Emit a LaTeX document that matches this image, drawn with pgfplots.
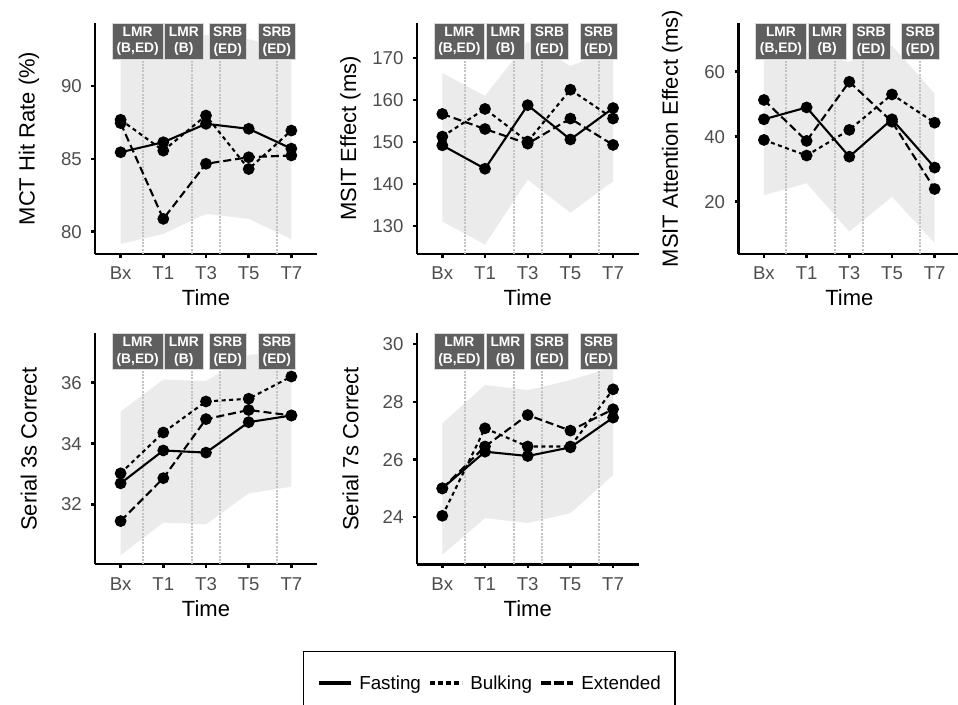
\documentclass[border=0pt]{standalone}
\usepackage{fontspec}
\setmainfont{Liberation Sans}
\usepackage{pgfplots}
\pgfplotsset{compat=1.18}
\definecolor{ribbon}{RGB}{235,235,235}
\definecolor{vgray}{RGB}{195,195,195}
\definecolor{boxgray}{RGB}{95,95,95}
\definecolor{tickgray}{RGB}{77,77,77}
\newcommand\ticksz{\fontsize{18.6pt}{22pt}\selectfont}
\newcommand\titlesz{\fontsize{22pt}{26pt}\selectfont}
\newcommand\boxsz{\fontsize{13.8pt}{16.7pt}\selectfont\bfseries}
\newcommand\legsz{\fontsize{18.8pt}{22pt}\selectfont}
\pgfplotsset{
  panel/.style={
    scale only axis, width=222pt, height=231pt,
    xmin=0.4, xmax=5.6,
    axis x line*=bottom, axis y line*=left,
    axis line style={line width=2.4pt,-},
    xtick={1,2,3,4,5}, xticklabels={Bx,T1,T3,T5,T7},
    tick align=outside, major tick length=3.6pt,
    tick style={line width=2.4pt, black},
    ticklabel style={font=\ticksz, text=tickgray, inner sep=0pt},
    xticklabel style={anchor=north, text height=13.3pt, text depth=0pt},
    yticklabel style={anchor=east, text height=13.3pt, text depth=0pt},
    xticklabel shift=8.8pt, yticklabel shift=9.5pt,
    /pgf/number format/assume math mode=true,
    xlabel={Time},
    label style={font=\titlesz},
    xlabel style={at={(axis description cs:0.5,0)}, anchor=center, yshift=-44pt},
    ylabel style={at={(axis description cs:-0.298,0.5)}, anchor=center},
    clip=true,
  },
  rib/.style={fill=ribbon, draw=none, forget plot, mark=none},
  vl/.style={vgray, line width=2pt, dash pattern=on 2pt off 1.3pt, forget plot, mark=none},
  fast/.style={black, solid, line width=2.1pt, mark=*, mark size=4.8pt, mark options={solid},
    legend image code/.code={\draw[line width=3.3pt, solid] (0pt,0pt) -- (31.7pt,0pt);}},
  bulk/.style={black, line width=2.1pt, dash pattern=on 4pt off 3.5pt, mark=*, mark size=4.8pt, mark options={solid},
    legend image code/.code={\draw[line width=3.3pt, dash pattern=on 5pt off 3pt] (0pt,0pt) -- (32pt,0pt);}},
  ext/.style={black, line width=2.1pt, dash pattern=on 8pt off 4pt, mark=*, mark size=4.8pt, mark options={solid},
    legend image code/.code={\draw[line width=3.3pt, dash pattern=on 10pt off 3pt] (0pt,0pt) -- (32pt,0pt);}},
}
\tikzset{lbl/.style={anchor=north, fill=boxgray, draw=white!85!black, line width=0.6pt, text=white,
  font=\boxsz, align=center, inner xsep=4.2pt, inner ysep=0pt, minimum height=36pt}}
\newcommand\vlines[2]{%
  \addplot[vl] coordinates {(1.52,#1) (1.52,#2)};
  \addplot[vl] coordinates {(2.67,#1) (2.67,#2)};
  \addplot[vl] coordinates {(3.33,#1) (3.33,#2)};
  \addplot[vl] coordinates {(4.66,#1) (4.66,#2)};
}
\newcommand\boxes{%
  \node[lbl] at ({axis cs:1.40,0}|-{rel axis cs:0,1}) {LMR\\(B,ED)};
  \node[lbl] at ({axis cs:2.48,0}|-{rel axis cs:0,1}) {LMR\\(B)};
  \node[lbl] at ({axis cs:3.51,0}|-{rel axis cs:0,1}) {SRB\\(ED)};
  \node[lbl] at ({axis cs:4.66,0}|-{rel axis cs:0,1}) {SRB\\(ED)};
}
\begin{document}
\begin{tikzpicture}
\useasboundingbox (0,0) rectangle (958pt,704pt);
% Panel 1
\begin{axis}[panel, at={(95pt,450pt)}, anchor=south west,
  ymin=78.47, ymax=94.32, ytick={80,85,90}, ylabel={MCT Hit Rate (\%)}]
\addplot[rib] coordinates {(1,79.16) (2,79.85) (3,81.22) (4,80.88) (5,79.5)
  (5,92.5) (4,93.2) (3,93.5) (2,93.0) (1,93.3)} -- cycle;
\vlines{78.47}{94.32}
\addplot[fast] coordinates {(1,85.45) (2,86.14) (3,87.4) (4,87.06) (5,85.7)};
\addplot[bulk] coordinates {(1,87.68) (2,85.56) (3,87.97) (4,84.3) (5,86.94)};
\addplot[ext] coordinates {(1,87.45) (2,80.88) (3,84.66) (4,85.11) (5,85.23)};
\boxes
\end{axis}
% Panel 2
\begin{axis}[panel, at={(416.7pt,450pt)}, anchor=south west,
  ymin=123.24, ymax=178.43, ytick={130,140,150,160,170}, ylabel={MSIT Effect (ms)}]
\addplot[rib] coordinates {(1,131.0) (2,125.5) (3,141.0) (4,133.1) (5,140.6)
  (5,172) (4,168.2) (3,174) (2,161.0) (1,166.5)} -- cycle;
\vlines{123.24}{178.43}
\addplot[fast] coordinates {(1,149.2) (2,143.6) (3,158.8) (4,150.6) (5,158.1)};
\addplot[bulk] coordinates {(1,151.3) (2,157.9) (3,150.1) (4,162.5) (5,155.6)};
\addplot[ext] coordinates {(1,156.7) (2,153.1) (3,149.6) (4,155.6) (5,149.3)};
\boxes
\end{axis}
% Panel 3
\begin{axis}[panel, at={(738.3pt,450pt)}, anchor=south west,
  ymin=3.91, ymax=74.98, ytick={20,40,60}, ylabel={MSIT Attention Effect (ms)}]
\addplot[rib] coordinates {(1,22.0) (2,25.7) (3,10.8) (4,21.5) (5,7.3)
  (5,53.3) (4,68) (3,63) (2,66) (1,66)} -- cycle;
\vlines{3.91}{74.98}
\addplot[fast] coordinates {(1,45.35) (2,49.0) (3,33.85) (4,45.35) (5,30.5)};
\addplot[bulk] coordinates {(1,39.0) (2,34.2) (3,42.1) (4,53.0) (5,44.3)};
\addplot[ext] coordinates {(1,51.3) (2,38.7) (3,56.9) (4,44.6) (5,23.9)};
\boxes
\end{axis}
% Panel 4
\begin{axis}[panel, at={(95pt,139.7pt)}, anchor=south west,
  ymin=30.03, ymax=37.62, ytick={32,34,36}, ylabel={Serial 3s Correct}]
\addplot[rib] coordinates {(1,30.33) (2,31.4) (3,31.34) (4,32.36) (5,32.58)
  (5,37.1) (4,36.9) (3,36.05) (2,36.1) (1,35.05)} -- cycle;
\vlines{30.03}{37.62}
\addplot[fast] coordinates {(1,32.69) (2,33.77) (3,33.70) (4,34.70) (5,34.92)};
\addplot[bulk] coordinates {(1,33.02) (2,34.36) (3,35.38) (4,35.47) (5,36.2)};
\addplot[ext] coordinates {(1,31.45) (2,32.86) (3,34.80) (4,35.10) (5,34.92)};
\boxes
\end{axis}
% Panel 5
\begin{axis}[panel, at={(416.7pt,139.7pt)}, anchor=south west,
  ymin=22.37, ymax=30.37, ytick={24,26,28,30}, ylabel={Serial 7s Correct},
  legend columns=3, legend cell align=left,
  legend style={at={(axis description cs:0.3266,-0.374)}, anchor=north, draw=black,
    line width=1.6pt, font=\legsz, inner xsep=14pt, inner ysep=24pt,
    nodes={inner sep=0pt},
    /tikz/every odd column/.append style={column sep=6.7pt},
    /tikz/every even column/.append style={column sep=7.4pt}}]
\addplot[rib] coordinates {(1,22.7) (2,23.97) (3,23.8) (4,24.14) (5,25.46)
  (5,29.2) (4,28.75) (3,28.4) (2,28.58) (1,27.25)} -- cycle;
\vlines{22.37}{30.37}
\addplot[fast] coordinates {(1,25.0) (2,26.27) (3,26.12) (4,26.42) (5,27.45)};
\addlegendentry{Fasting}
\addplot[bulk] coordinates {(1,24.05) (2,27.08) (3,26.45) (4,26.45) (5,28.43)};
\addlegendentry{Bulking}
\addplot[ext] coordinates {(1,25.0) (2,26.45) (3,27.54) (4,27.0) (5,27.74)};
\addlegendentry{Extended}
\boxes
\end{axis}
\end{tikzpicture}
\end{document}
